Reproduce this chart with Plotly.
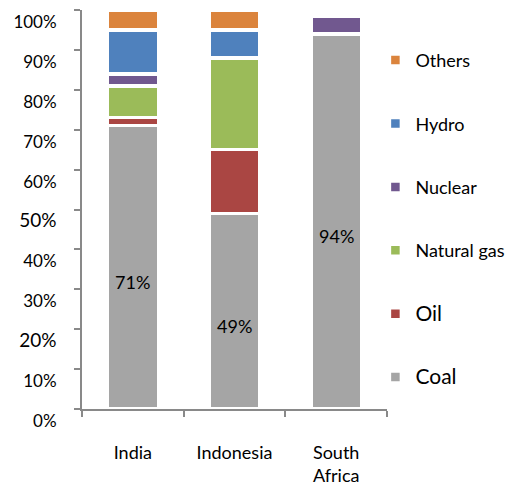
import plotly.graph_objects as go

countries = ["India", "Indonesia", "South<br>Africa"]
coal = [71, 49, 94]
oil = [2, 16, 0]
natural_gas = [8, 23, 0]
nuclear = [3, 0, 4.5]
hydro = [11, 7, 0]
others = [5, 5, 0]

series = [
    ("Coal", coal, "#A5A5A5", 21),
    ("Oil", oil, "#AA4643", 21),
    ("Natural gas", natural_gas, "#9BBB59", 18),
    ("Nuclear", nuclear, "#71588F", 18),
    ("Hydro", hydro, "#4F81BD", 18),
    ("Others", others, "#DB843D", 18),
]

ytick_vals = [0, 10, 20, 30, 40, 50, 60, 70, 80, 90, 100]
ytick_text = [f"{v}%" for v in ytick_vals]
ytick_text = [f"<span style='font-size:19px'>{t}</span>" if v in (20, 50) else t
              for v, t in zip(ytick_vals, ytick_text)]

FONT = "Lato"

fig = go.Figure()
n = len(series)
for i, (name, vals, color, fs) in enumerate(series):
    fig.add_trace(go.Bar(
        x=countries, y=vals, name=f"<span style='font-size:{fs}px'>{name}</span>",
        legendgroup=name, legendrank=n - i,
        marker=dict(color=color, line=dict(color="white", width=3.5)),
        hoverinfo="skip",
    ))

for c, v in zip(countries, coal):
    fig.add_annotation(x=c, y=v / 2, text=f"{v:.0f}%", showarrow=False,
                       yshift=-15, font=dict(size=18, color="#000000", family=FONT))

fig.update_layout(
    width=512, height=489,
    margin=dict(l=82, r=125, t=10, b=80, autoexpand=False),
    paper_bgcolor="white", plot_bgcolor="white",
    barmode="stack", bargap=0.5,
    font=dict(family=FONT, size=17, color="#000000"),
    showlegend=True,
    legend=dict(x=0.962, y=0.92, xanchor="left", yanchor="top",
                traceorder="grouped", tracegroupgap=37,
                font=dict(size=18, family=FONT, color="#000000"),
                itemwidth=30, bgcolor="rgba(0,0,0,0)"),
)
fig.update_yaxes(range=[0, 100], tickvals=ytick_vals, ticktext=ytick_text,
                 showline=True, linecolor="#898989", linewidth=2,
                 ticks="outside", ticklen=6, tickcolor="#898989", tickwidth=2,
                 showgrid=False, zeroline=False, ticklabelshift=12,
                 ticklabelstandoff=14, tickfont=dict(size=17), automargin=False)
fig.update_xaxes(showline=True, linecolor="#898989", linewidth=2,
                 ticks="outside", ticklen=6, tickcolor="#898989", tickwidth=2,
                 tickson="boundaries", ticklabelstandoff=26,
                 tickfont=dict(size=18), showgrid=False, automargin=False)

fig.write_html("out.html")
